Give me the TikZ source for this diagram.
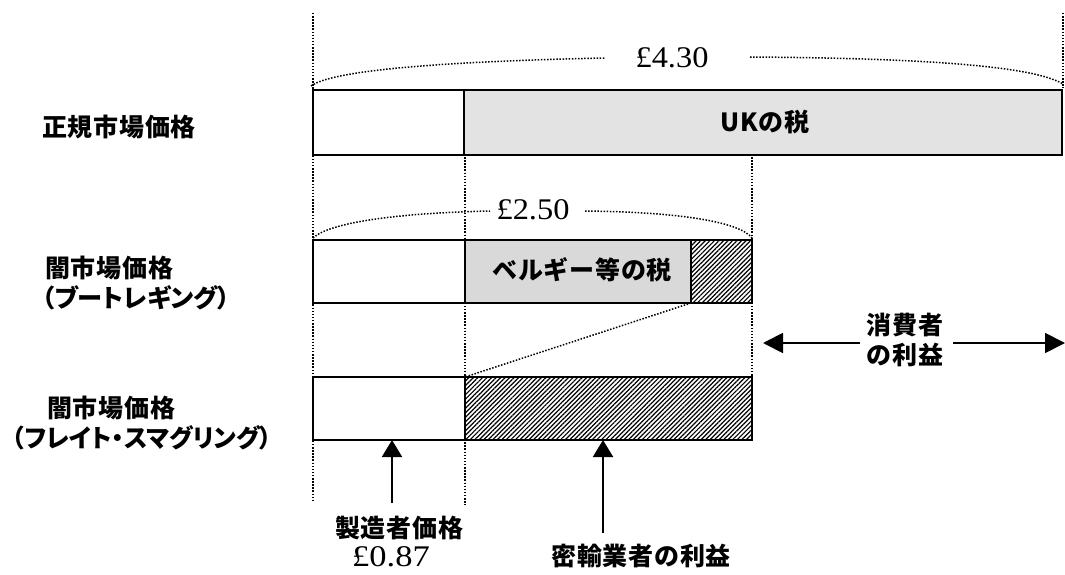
\documentclass[tikz,border=0pt]{standalone}
\usepackage{graphicx}
\usepackage{fontspec}
\setmainfont{Liberation Serif}
\newfontfamily\jp{Noto Sans CJK JP}[LetterSpace=3]
\newfontfamily\jpp{Noto Sans CJK JP}[RawFeature=+palt]
\usetikzlibrary{arrows.meta,patterns.meta}
\begin{document}
\begin{tikzpicture}[x=1pt,y=-1pt,
  cell/.style={draw=black,line width=2.2pt,fill=white,inner sep=0pt,outer sep=0pt,anchor=north west},
  taxfill/.style={fill=gray!22},
  taxfillb/.style={fill=gray!30},
  hatch/.style={pattern={Lines[angle=45,distance=3.2pt,line width=1.2pt]}},
  dotline/.style={line width=1.5pt,dash pattern=on 1.5pt off 1.6pt},
  jplab/.style={font=\jp\bfseries\fontsize{25}{30}\selectfont,inner sep=0pt},
  jpk/.style={font=\jpp\bfseries\fontsize{25}{30}\selectfont,inner sep=0pt},
  price/.style={font=\fontsize{30}{32}\selectfont,inner sep=0pt},
  uparrow/.style={line width=2pt,-{Triangle[length=17pt,width=20pt]}},
  sidearrow/.style={line width=1.8pt,-{Triangle[length=20pt,width=20pt]}}]
\path[use as bounding box] (0,0) rectangle (1065,575);

% dotted guide lines
\draw[dotline] (313,13) -- (313,502);
\draw[dotline] (465,157) -- (465,505);
\draw[dotline] (752,157) -- (752,441);
\draw[dotline] (1063,13) -- (1063,88);

% braces
\draw[dotline] (311,86) .. controls (330,72) and (420,62) .. (605,58);
\draw[dotline] (750,57) .. controls (900,58) and (1030,64) .. (1063,84);
\draw[dotline] (313,238) .. controls (330,222) and (400,213) .. (490,211);
\draw[dotline] (585,211) .. controls (680,212) and (740,222) .. (752,238);

% row 1
\node[cell,minimum width=151pt,minimum height=65pt] (m1) at (313,90) {};
\node[cell,taxfill,minimum width=598pt,minimum height=65pt] (t1) at (464,90) {};
% row 2
\node[cell,minimum width=152pt,minimum height=63pt] (m2) at (313,240) {};
\node[cell,taxfillb,minimum width=226pt,minimum height=63pt] (t2) at (465,240) {};
\node[cell,hatch,minimum width=61pt,minimum height=63pt] (h2) at (691,240) {};
% row 3
\node[cell,minimum width=152pt,minimum height=63pt] (m3) at (313,377) {};
\node[cell,hatch,minimum width=287pt,minimum height=63pt] (s3) at (465,377) {};

% link between hatched parts
\draw[dotline] (h2.south west) -- (s3.north west);

% prices
\node[price] (p1) at (672,58) {\scalebox{1.08}[1]{£4.30}};
\node[price] (p2) at (533,210) {\scalebox{1.08}[1]{£2.50}};

% bar texts
\node[jplab] (uk) at (765,122) {UKの税};
\node[jplab] (be) at (582,270) {ベルギー等の税};

% left labels
\node[jplab,anchor=west] (l1) at (42,127) {正規市場価格};
\node[jplab,anchor=west] (l2a) at (45,268) {闇市場価格};
\node[jpk,anchor=west] (l2b) at (42,298) {\resizebox{188pt}{\height}{（ブートレギング）}};
\node[jplab,anchor=west] (l3a) at (47,408) {闇市場価格};
\node[jpk,anchor=west] (l3b) at (12,438) {\resizebox{260pt}{\height}{（フレイト・スマグリング）}};

% bottom labels and arrows
\node[jplab] (mfr) at (399,528) {製造者価格};
\node[price] (mfrp) at (391,557) {\scalebox{1.15}[1]{£0.87}};
\node[jplab] (smg) at (641,556) {密輸業者の利益};
\coordinate (a1s) at (392,503);
\coordinate (a2s) at (603,533);
\draw[uparrow] (a1s) -- (a1s |- m3.south);
\draw[uparrow] (a2s) -- (a2s |- s3.south);

% consumer benefit
\node[jplab,align=center] (cons) at (905,340) {消費者\\の利益};
\coordinate (cl0) at (860,343);
\coordinate (cl1) at (763,343);
\coordinate (cr0) at (953,343);
\coordinate (cr1) at (1065,343);
\draw[sidearrow] (cl0) -- (cl1);
\draw[sidearrow] (cr0) -- (cr1);
\end{tikzpicture}
\end{document}
